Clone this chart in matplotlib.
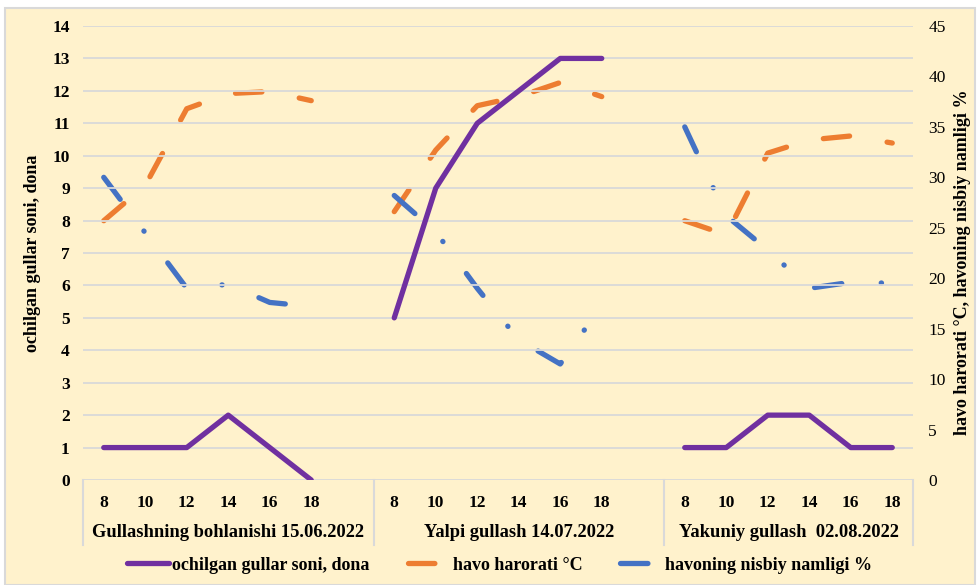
import numpy as np
import matplotlib
matplotlib.use("Agg")
import matplotlib.pyplot as plt
import matplotlib.transforms as mtransforms
from matplotlib.patches import Rectangle

# hours within each flowering stage
hours = [8, 10, 12, 14, 16, 18]
groups = ["Gullashning bohlanishi 15.06.2022",
          "Yalpi gullash 14.07.2022",
          "Yakuniy gullash  02.08.2022"]

# opened flowers (left axis)
flowers = [[1, 1, 1, 2, 1, 0],
           [5, 9, 11, 12, 13, 13],
           [1, 1, 2, 2, 1, 1]]
# air temperature, C (right axis)
temp = [[25.7, 29.2, 36.8, 38.3, 38.5, 37.6],
        [26.6, 32.7, 37.1, 38.0, 39.4, 38.0],
        [25.7, 24.3, 32.4, 33.7, 34.1, 33.4]]
# relative humidity, % (right axis)
humid = [[30.0, 24.5, 19.0, 19.4, 17.6, 17.2],
         [28.2, 24.6, 19.0, 13.9, 11.5, 17.3],
         [35.0, 26.2, 22.8, 19.0, 19.6, 19.5]]

labels = ["ochilgan gullar soni, dona", "havo harorati °C", "havoning nisbiy namligi %"]

BG = "#FFF2CC"
GRID = "#D9D9D9"
PURPLE = "#7030A0"
ORANGE = "#ED7D31"
BLUE = "#4472C4"
plt.rcParams["font.family"] = ["Liberation Serif", "DejaVu Serif"]

fig = plt.figure(figsize=(9.8, 5.85), dpi=100, facecolor="white")
fig.patches.append(Rectangle((5 / 980, 0), 970 / 980, 577 / 585, transform=fig.transFigure,
                             facecolor=BG, edgecolor=GRID, linewidth=1.5, zorder=-10))

ax = fig.add_axes([83 / 980, 105 / 585, 830 / 980, 454 / 585])
ax.set_facecolor(BG)
ax2 = ax.twinx()
ax.set_zorder(ax2.get_zorder() + 1)
ax.patch.set_visible(False)

lw = 3.8
for g in range(3):
    xs = np.arange(6) + g * 7
    l1, = ax.plot(xs, flowers[g], color=PURPLE, lw=lw, solid_capstyle="round",
                  solid_joinstyle="round", label=labels[0])
    l2, = ax2.plot(xs, temp[g], color=ORANGE, lw=lw, ls=(0, (5, 7.2)),
                   dash_capstyle="round", dash_joinstyle="round", label=labels[1])
    l3, = ax2.plot(xs, humid[g], color=BLUE, lw=lw, ls=(0, (5.2, 7.5, 0.05, 7.5)),
                   dash_capstyle="round", dash_joinstyle="round", label=labels[2])

ax.set_xlim(-0.5, 19.5)
ax.set_ylim(0, 14)
ax2.set_ylim(0, 45)
ax.set_yticks(range(0, 15))
ax2.set_yticks(range(0, 46, 5))
ax.grid(axis="y", color=GRID, lw=1.3)
ax.set_axisbelow(True)
for a in (ax, ax2):
    for s in a.spines.values():
        s.set_visible(False)
ax.tick_params(axis="y", length=0, pad=9.5, labelsize=12.5)
ax2.tick_params(axis="y", length=0, pad=11, labelsize=12.5)
for t in ax.get_yticklabels():
    t.set_fontweight("bold")

xticks = [i + g * 7 for g in range(3) for i in range(6)]
ax.set_xticks(xticks)
ax.set_xticklabels([str(h) for g in range(3) for h in hours], fontweight="bold", fontsize=12.5)
ax.tick_params(axis="x", length=0, pad=11)

# group labels centred on each group's span of categories
trans = mtransforms.blended_transform_factory(ax.transData, ax.transAxes)
seps = [-0.5, 6.5, 13.5, 19.5]
for g in range(3):
    ax.text((seps[g] + seps[g + 1]) / 2, -0.115, groups[g], transform=trans, ha="center",
            va="center", fontsize=13.3, fontweight="bold")
for xsep in seps:
    ax.plot([xsep, xsep], [0, -0.143], transform=trans, color=GRID, lw=1.5, clip_on=False)

ax.set_ylabel(labels[0], fontsize=13, fontweight="bold")
ax.yaxis.set_label_coords(-0.05, 0.5)
ax2.set_ylabel("havo harorati °C, havoning nisbiy namligi %", fontsize=13,
               fontweight="bold", rotation=90)
ax2.yaxis.set_label_coords(1.049, 0.48)

leg = fig.legend(handles=[l1, l2, l3], loc="center", bbox_to_anchor=(0.51, 20 / 585),
                 ncol=3, frameon=False, handlelength=2.3, columnspacing=2.1,
                 handletextpad=0.2, prop={"weight": "bold", "size": 13})

fig.savefig("out.png", dpi=100, facecolor="white")
